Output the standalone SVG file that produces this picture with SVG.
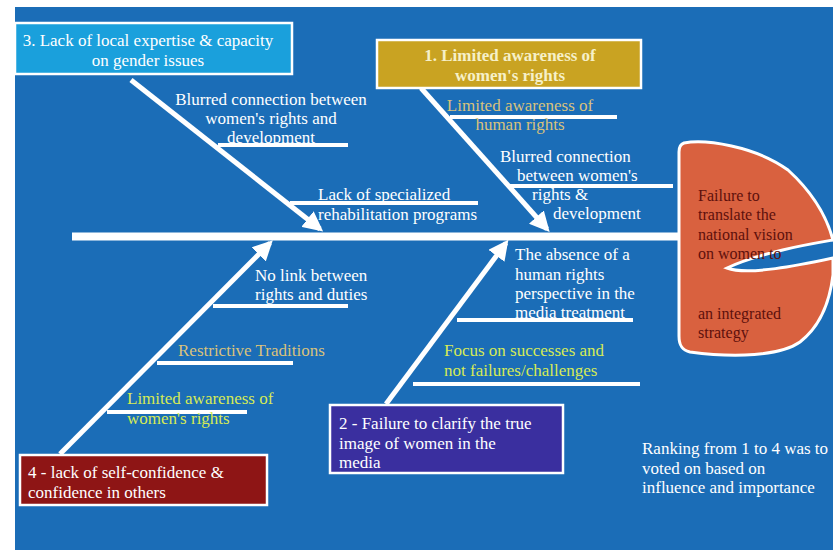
<svg xmlns="http://www.w3.org/2000/svg" width="833" height="550" viewBox="0 0 833 550">
<defs>
<marker id="arr" viewBox="0 0 10 10" refX="8" refY="5" markerWidth="4" markerHeight="4" orient="auto" markerUnits="strokeWidth">
<path d="M0,0 L10,5 L0,10 Z" fill="#ffffff"/>
</marker>
<style>
text{font-family:"Liberation Serif","Times New Roman",serif;font-size:17px;}
.w{fill:#ffffff;}
.tan{fill:#d9c27c;}
.yg{fill:#d6ea55;}
.hd{fill:#5e100c;font-size:16px;}
.bone{stroke:#ffffff;stroke-width:5;fill:none;stroke-linecap:butt;}
.sub{stroke:#ffffff;stroke-width:4;fill:none;}
.box{stroke:#ffffff;stroke-width:2.5;}
</style>
</defs>
<rect x="0" y="0" width="833" height="550" fill="#ffffff"/>
<rect x="15" y="7" width="818" height="543" fill="#1b6db7"/>

<g id="connectors">
<line x1="72" y1="236.5" x2="682" y2="236.5" stroke="#ffffff" stroke-width="8"/>
<line class="bone" x1="131" y1="80" x2="320" y2="229" marker-end="url(#arr)"/>
<line class="bone" x1="421" y1="88" x2="547" y2="229" marker-end="url(#arr)"/>
<line class="bone" x1="60" y1="454" x2="270" y2="243" marker-end="url(#arr)"/>
<line class="bone" x1="386" y1="404" x2="506" y2="243" marker-end="url(#arr)"/>
<line class="sub" x1="218" y1="145" x2="348" y2="145"/>
<line class="sub" x1="290" y1="203" x2="478" y2="203"/>
<line class="sub" x1="450" y1="117" x2="617" y2="117"/>
<line class="sub" x1="510" y1="186" x2="673" y2="186"/>
<line class="sub" x1="213" y1="306" x2="348" y2="306"/>
<line class="sub" x1="157" y1="363" x2="293" y2="363"/>
<line class="sub" x1="107" y1="412" x2="247" y2="412"/>
<line class="sub" x1="457" y1="320" x2="633" y2="320"/>
<line class="sub" x1="413" y1="384" x2="640" y2="384"/>
</g>

<g id="head">
<path d="M684,143 C705,139 755,146 788,170 C810,190 826,214 833,240 C810,244 762,252 727,268 C748,276 800,265 833,258 L833,275 C830,300 822,325 800,342 C780,356 735,358 690,352 C681,350 679,344 679,336 L679,152 C679,147 681,144 684,143 Z" fill="#d9613f" stroke="#ffffff" stroke-width="3"/>
<text class="hd" x="698" y="201">Failure to</text>
<text class="hd" x="698" y="220">translate the</text>
<text class="hd" x="698" y="240">national vision</text>
<text class="hd" x="698" y="259">on women to</text>
<text class="hd" x="698" y="319">an integrated</text>
<text class="hd" x="698" y="338">strategy</text>
</g>

<g id="cause3">
<rect class="box" x="15" y="23" width="277" height="51" fill="#1aa0dc"/>
<text class="w" x="148" y="46" text-anchor="middle">3. Lack of local expertise &amp; capacity</text>
<text class="w" x="148" y="66" text-anchor="middle">on gender issues</text>
</g>
<g id="cause3-sub1">
<text class="w" x="271" y="105" text-anchor="middle">Blurred connection between</text>
<text class="w" x="271" y="124" text-anchor="middle">women's rights and</text>
<text class="w" x="271" y="143" text-anchor="middle">development</text>
</g>
<g id="cause3-sub2">
<text class="w" x="318" y="200">Lack of specialized</text>
<text class="w" x="318" y="220">rehabilitation programs</text>
</g>

<g id="cause1">
<rect class="box" x="377" y="40" width="264" height="48" fill="#c9a322"/>
<text x="510" y="61" text-anchor="middle" fill="#f6f0c8" font-weight="bold">1. Limited awareness of</text>
<text x="510" y="81" text-anchor="middle" fill="#f6f0c8" font-weight="bold">women's rights</text>
</g>
<g id="cause1-sub1">
<text class="tan" x="520" y="111" text-anchor="middle">Limited awareness of</text>
<text class="tan" x="520" y="130" text-anchor="middle">human rights</text>
</g>
<g id="cause1-sub2">
<text class="w" x="500" y="162">Blurred connection</text>
<text class="w" x="517" y="181">between women's</text>
<text class="w" x="532" y="200">rights &amp;</text>
<text class="w" x="553" y="219">development</text>
</g>

<g id="cause4">
<rect class="box" x="20" y="455" width="247" height="50" fill="#8e1515"/>
<text class="w" x="28" y="478">4 - lack of self-confidence &amp;</text>
<text class="w" x="28" y="498">confidence in others</text>
</g>
<g id="cause4-sub1">
<text class="w" x="255" y="281">No link between</text>
<text class="w" x="255" y="300">rights and duties</text>
</g>
<g id="cause4-sub2">
<text class="tan" x="178" y="356">Restrictive Traditions</text>
</g>
<g id="cause4-sub3">
<text class="yg" x="127" y="404">Limited awareness of</text>
<text class="yg" x="127" y="424">women's rights</text>
</g>

<g id="cause2">
<rect class="box" x="330" y="405" width="233" height="68" fill="#3a2f9f"/>
<text class="w" x="339" y="429">2 - Failure to clarify the true</text>
<text class="w" x="339" y="449">image of women in the</text>
<text class="w" x="339" y="468">media</text>
</g>
<g id="cause2-sub1">
<text class="w" x="515" y="260">The absence of a</text>
<text class="w" x="515" y="280">human rights</text>
<text class="w" x="515" y="299">perspective in the</text>
<text class="w" x="515" y="318">media treatment</text>
</g>
<g id="cause2-sub2">
<text class="yg" x="444" y="356">Focus on successes and</text>
<text class="yg" x="444" y="376">not failures/challenges</text>
</g>

<g id="note">
<text class="w" x="642" y="454">Ranking from 1 to 4 was to</text>
<text class="w" x="642" y="474">voted on based on</text>
<text class="w" x="642" y="493">influence and importance</text>
</g>
</svg>
